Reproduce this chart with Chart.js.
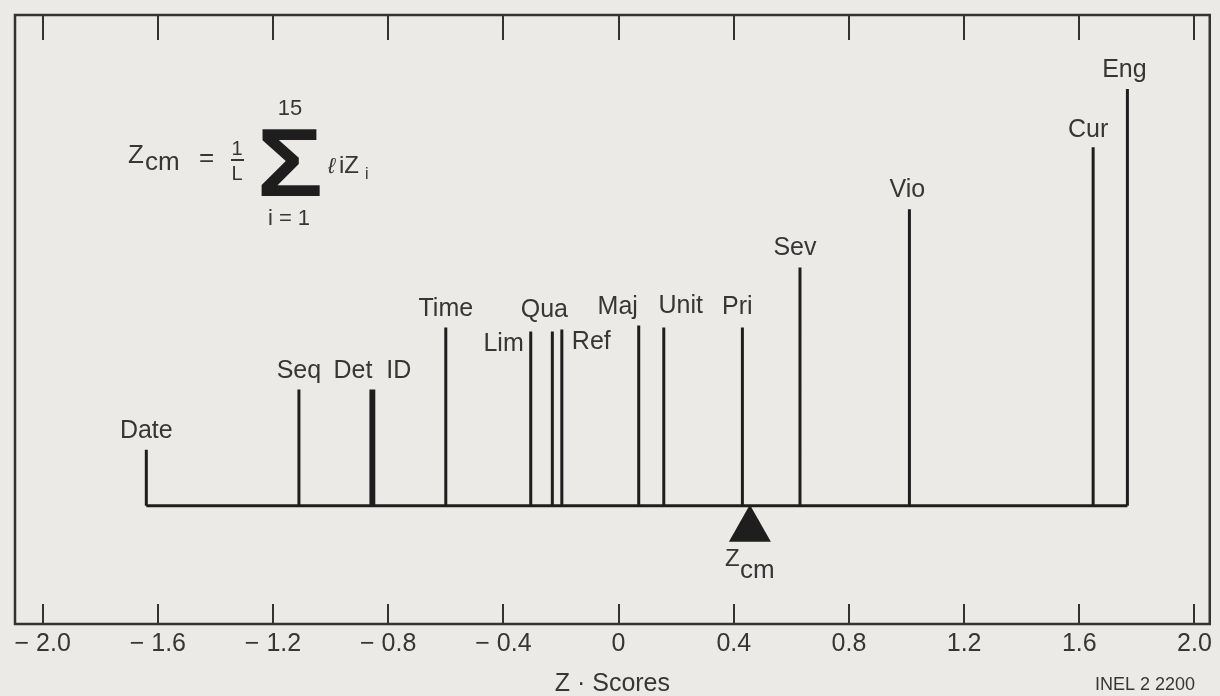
<!DOCTYPE html>
<html>
<head>
<meta charset="utf-8">
<title>Z-Scores</title>
<script src="https://cdn.jsdelivr.net/npm/chart.js@4.4.1/dist/chart.umd.min.js"></script>
<style>
  html, body { margin: 0; padding: 0; background: #ebeae7; }
  #wrap { width: 1220px; height: 696px; }
</style>
</head>
<body>
<div id="wrap"><canvas id="zChart" width="1220" height="696"></canvas></div>
<script>
// data
const factors = ["Date", "Seq", "Det", "ID", "Time", "Lim", "Qua", "Ref", "Maj", "Unit", "Pri", "Sev", "Vio", "Cur", "Eng"];
const zScores = [-1.64, -1.11, -0.86, -0.85, -0.60, -0.305, -0.23, -0.197, 0.07, 0.157, 0.43, 0.63, 1.01, 1.648, 1.767];
const lengths = [1.4, 2.9, 2.9, 2.9, 4.45, 4.35, 4.35, 4.4, 4.5, 4.45, 4.45, 5.95, 7.4, 8.95, 10.4];
const zcm = 0.456;
const tickValues = [-2.0, -1.6, -1.2, -0.8, -0.4, 0, 0.4, 0.8, 1.2, 1.6, 2.0];

const ink = "#1e1e1e";
const textColor = "#363636";
const fontFamily = '"Liberation Sans", Arial, sans-serif';

// label placement tweaks (pixels) for crowded stems
const labelOffsets = {
  Det: { dx: -18 },
  ID: { dx: 25 },
  Lim: { align: "right", dx: -7, dy: 19 },
  Qua: { dx: -8, dy: -15 },
  Ref: { align: "left", dx: 10, dy: 19 },
  Maj: { dx: -21 },
  Unit: { dx: 17, dy: -15 },
  Pri: { dx: -5, dy: -14 },
  Sev: { dx: -5 },
  Vio: { dx: -2 },
  Cur: { dx: -5, dy: -10 },
  Eng: { dx: -3 },
};

// stems as one broken line: base -> top -> gap
const stemPoints = [];
zScores.forEach((z, i) => {
  stemPoints.push({ x: z, y: 0 }, { x: z, y: lengths[i] }, { x: z, y: null });
});
const basePoints = [
  { x: Math.min(...zScores), y: 0 },
  { x: Math.max(...zScores), y: 0 },
];

function fmtTick(v) {
  if (Math.abs(v) < 1e-9) return "0";
  return (v < 0 ? "\u2212 " : "") + Math.abs(v).toFixed(1);
}

const decorPlugin = {
  id: "decor",
  afterDatasetsDraw(chart) {
    const { ctx, chartArea: a, scales } = chart;
    const x = scales.x, y = scales.y;
    ctx.save();

    // frame
    ctx.strokeStyle = "#333";
    ctx.lineWidth = 2.5;
    ctx.strokeRect(a.left, a.top, a.right - a.left, a.bottom - a.top);

    // inward tick marks top and bottom
    ctx.lineWidth = 2;
    tickValues.forEach((v) => {
      const px = Math.round(x.getPixelForValue(v));
      ctx.beginPath();
      ctx.moveTo(px, a.bottom);
      ctx.lineTo(px, a.bottom - 20);
      ctx.moveTo(px, a.top);
      ctx.lineTo(px, a.top + 25);
      ctx.stroke();
    });

    // stem labels
    ctx.fillStyle = textColor;
    ctx.font = "25px " + fontFamily;
    ctx.textBaseline = "alphabetic";
    factors.forEach((name, i) => {
      const o = labelOffsets[name] || {};
      ctx.textAlign = o.align || "center";
      const px = x.getPixelForValue(zScores[i]) + (o.dx || 0);
      const py = y.getPixelForValue(lengths[i]) + (o.dy !== undefined ? o.dy : -12);
      ctx.fillText(name, px, py);
    });

    // centre-of-mass triangle
    const tx = x.getPixelForValue(zcm);
    const ty = y.getPixelForValue(0);
    ctx.fillStyle = ink;
    ctx.beginPath();
    ctx.moveTo(tx, ty - 1);
    ctx.lineTo(tx + 21, ty + 36);
    ctx.lineTo(tx - 21, ty + 36);
    ctx.closePath();
    ctx.fill();

    ctx.fillStyle = textColor;
    ctx.textAlign = "left";
    ctx.font = "24px " + fontFamily;
    ctx.fillText("Z", tx - 25, ty + 60);
    ctx.font = "26px " + fontFamily;
    ctx.fillText("cm", tx - 10, ty + 72);

    // formula
    ctx.font = "26px " + fontFamily;
    ctx.fillText("Z", 128, 163);
    ctx.fillText("cm", 145, 170);
    ctx.fillText("=", 199, 166);
    ctx.textAlign = "center";
    ctx.font = "20px " + fontFamily;
    ctx.fillText("1", 237, 155);
    ctx.fillText("L", 237, 180);
    ctx.fillRect(231, 159, 13, 2);
    ctx.save();
    ctx.translate(290, 196);
    ctx.scale(1.15, 1);
    ctx.font = "bold 96px " + fontFamily;
    ctx.fillStyle = ink;
    ctx.fillText("\u03A3", 0, 0);
    ctx.restore();
    ctx.font = "22px " + fontFamily;
    ctx.fillText("15", 290, 115);
    ctx.fillText("i = 1", 289, 225);
    ctx.textAlign = "left";
    ctx.font = "italic 22px " + fontFamily;
    ctx.fillText("\u2113", 328, 173);
    ctx.font = "24px " + fontFamily;
    ctx.fillText("iZ", 339, 173);
    ctx.font = "16px " + fontFamily;
    ctx.fillText("i", 365, 179);

    // figure id
    ctx.font = "18px " + fontFamily;
    ctx.textAlign = "right";
    ctx.fillText("INEL 2 2200", 1195, 690);

    ctx.restore();
  },
};

Chart.defaults.font.family = fontFamily;

new Chart(document.getElementById("zChart"), {
  type: "line",
  data: {
    datasets: [
      {
        label: "Stems",
        data: stemPoints,
        borderColor: ink,
        borderWidth: 3,
        pointRadius: 0,
        spanGaps: false,
        tension: 0,
      },
      {
        label: "Baseline",
        data: basePoints,
        borderColor: ink,
        borderWidth: 3,
        pointRadius: 0,
        tension: 0,
      },
    ],
  },
  options: {
    responsive: false,
    animation: false,
    devicePixelRatio: 1,
    layout: {
      padding: { top: 15, left: 15, right: 10, bottom: -1 },
    },
    plugins: {
      legend: { display: false },
      tooltip: { enabled: false },
    },
    scales: {
      x: {
        type: "linear",
        min: -2.096,
        max: 2.053,
        afterBuildTicks: (axis) => {
          axis.ticks = tickValues.map((v) => ({ value: v }));
        },
        grid: { display: false, drawTicks: false },
        border: { display: false },
        ticks: {
          color: textColor,
          font: { size: 25, lineHeight: 1 },
          padding: 8,
          maxRotation: 0,
          autoSkip: false,
          callback: (v) => fmtTick(v),
        },
        title: {
          display: true,
          text: "Z \u00B7 Scores",
          color: textColor,
          font: { size: 25, lineHeight: 1 },
          padding: { top: 7, bottom: 0 },
        },
      },
      y: {
        display: false,
        min: -2.95,
        max: 12.25,
      },
    },
  },
  plugins: [decorPlugin],
});
</script>
</body>
</html>
